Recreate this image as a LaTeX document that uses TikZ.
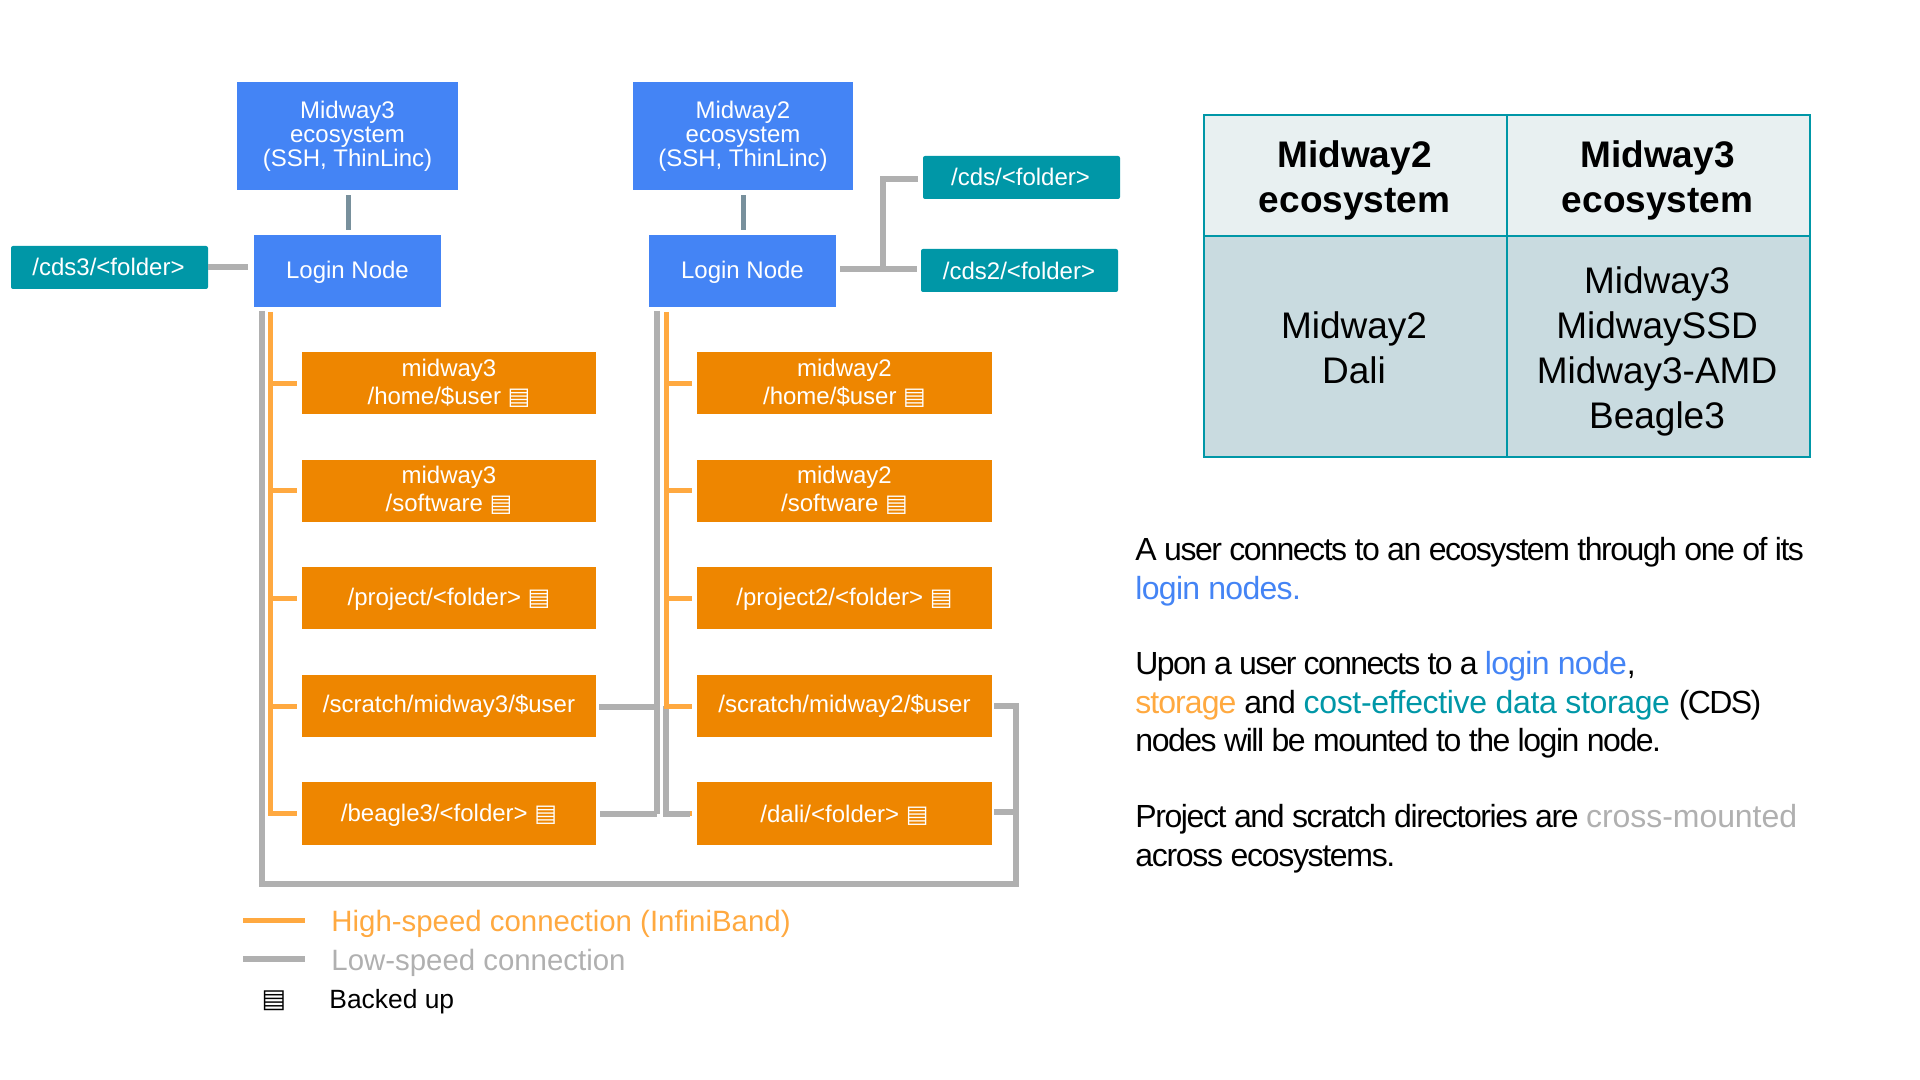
\documentclass[tikz,border=0pt]{standalone}
\usepackage{fontspec}
\setmainfont{Liberation Sans}
\newfontfamily\iconfont{DejaVu Sans}
\definecolor{nodeblue}{HTML}{4484F5}
\definecolor{cdsteal}{HTML}{0097A7}
\definecolor{storeorange}{HTML}{EE8600}
\definecolor{fastline}{HTML}{FFA940}
\definecolor{slowline}{HTML}{B0B0B0}
\definecolor{linkslate}{HTML}{78909C}
\definecolor{headfill}{HTML}{E8F0F1}
\definecolor{bodyfill}{HTML}{C9DBE0}
\newcommand\icn{{\iconfont ▤}}
\newcommand\ls[2]{{\addfontfeature{LetterSpace=#1}#2}}
\newcommand\pxbox[8][0,0]{%
  \node[#2, minimum width={(#6-#4)*0.5pt}, minimum height={(#7-#5)*0.5pt}] (#3) at ({(#4+#6)/2},{(#5+#7)/2}) {};%
  \node[#2, fill=none, draw=none, shift={(#1)}] (#3t) at (#3.center) {#8};}
\tikzset{
  boxbase/.style={inner sep=0pt, align=center, text=white, font=\fontsize{12}{12}\selectfont},
  bluebox/.style={boxbase, fill=nodeblue},
  tealbox/.style={boxbase, fill=cdsteal, rounded corners=1pt},
  orangebox/.style={boxbase, fill=storeorange, font=\fontsize{12}{14}\selectfont},
  fast/.style={draw=fastline, line width=2.5pt},
  slow/.style={draw=slowline, line width=3pt},
  stub/.style={draw=linkslate, line width=2.5pt},
  headcell/.style={draw=cdsteal, line width=1.25pt, fill=headfill, inner sep=0pt, align=center, font=\bfseries\fontsize{18.5}{22.5}\selectfont},
  bodycell/.style={draw=cdsteal, line width=1.25pt, fill=bodyfill, inner sep=0pt, align=center, font=\fontsize{18.5}{22.5}\selectfont},
  para/.style={anchor=north west, inner sep=0pt, align=left, font=\fontsize{16}{19.3}\selectfont},
  legendtext/.style={anchor=west, inner sep=0pt, font=\fontsize{14.7}{16}\selectfont}
}
\begin{document}
\begin{tikzpicture}[x=0.5pt,y=-0.5pt]
\useasboundingbox (0,0) rectangle (1920,1080);
% ecosystem + login
\pxbox[0,0.5]{bluebox}{ecoC}{237}{82}{458}{190}{Midway3\\ecosystem\\(SSH, ThinLinc)}
\pxbox[0,1]{bluebox}{loginC}{254}{235}{441}{307}{Login Node}
\pxbox[0,0.5]{bluebox}{ecoB}{633}{82}{853}{190}{Midway2\\ecosystem\\(SSH, ThinLinc)}
\pxbox[0,1]{bluebox}{loginB}{649}{235}{836}{307}{Login Node}
\pxbox[-1,-1]{tealbox}{cdsC}{11}{246}{208}{289}{/cds3/<folder>}
\pxbox[-1,-1]{tealbox}{cdsA}{923}{156}{1120}{199}{/cds/<folder>}
\pxbox[-0.5,0]{tealbox}{cdsB}{921}{249}{1118}{292}{/cds2/<folder>}
% left storage
\pxbox{orangebox}{homeC}{302}{352}{596}{414}{midway3\\/home/\$user \icn}
\pxbox[0,-1]{orangebox}{softC}{302}{460}{596}{522}{midway3\\/software \icn}
\pxbox[0,1]{orangebox}{projC}{302}{567}{596}{629}{/project/<folder> \icn}
\pxbox{orangebox}{scrC}{302}{675}{596}{737}{/scratch/midway3/\$user}
\pxbox[0,2]{orangebox}{beagle}{302}{782}{596}{845}{/beagle3/<folder> \icn}
% right storage
\pxbox{orangebox}{homeB}{697}{352}{992}{414}{midway2\\/home/\$user \icn}
\pxbox[0,-1]{orangebox}{softB}{697}{460}{992}{522}{midway2\\/software \icn}
\pxbox[0,1]{orangebox}{projB}{697}{567}{992}{629}{/project2/<folder> \icn}
\pxbox{orangebox}{scrB}{697}{675}{992}{737}{/scratch/midway2/\$user}
\pxbox[0,2]{orangebox}{dali}{697}{782}{992}{845}{/dali/<folder> \icn}
% stubs
\draw[stub] ([shift={(0,5)}]ecoC.south -| 348,0) -- ([shift={(0,-5)}]loginC.north -| 348,0);
\draw[stub] ([shift={(0,5)}]ecoB.south -| 743,0) -- ([shift={(0,-5)}]loginB.north -| 743,0);
% cds links
\draw[slow] (cdsC.east |- 0,267) -- ([xshift=-3pt]loginC.west |- 0,267);
\coordinate (jB) at (883,269);
\draw[slow] ([xshift=2pt]loginB.east |- jB) -- ([xshift=-2pt]cdsB.west |- jB);
\draw[slow] (jB) -- (883,179) -- ([xshift=-2.5pt]cdsA.west |- 0,179);
% low speed main
\coordinate (ringTL) at (262,311);
\coordinate (ringBL) at (262,884);
\coordinate (ringBR) at (1016,884);
\coordinate (ringTR) at (1016,706);
\draw[slow] (ringTL) -- (ringBL) -- (ringBR) -- (ringTR) -- ([xshift=1pt]scrB.east |- ringTR);
\draw[slow] (1016,812) -- ([xshift=1pt]dali.east |- 0,812);
% dali orange tip, under the grey link
\draw[fast] (680,813) -- ([xshift=-2.5pt]dali.west |- 0,813);
% cross mount
\coordinate (colB) at (657,311);
\draw[slow] (colB) -- (657,814);
\draw[slow] ([xshift=1.5pt]scrC.east |- 0,707) -- (657,707);
\draw[slow] ([xshift=2pt]beagle.east |- 0,814) -- (657,814);
\draw[slow] (666,706) -- (666,814) -- ([xshift=-3.5pt]dali.west |- 0,814);
% high speed left
\coordinate (fastC) at (270,312);
\draw[fast] (fastC) -- (270,813) -- ([xshift=-2.5pt]beagle.west |- 0,813);
\draw[fast] (270,383) -- ([xshift=-2.5pt]homeC.west |- 0,383);
\draw[fast] (270,490) -- ([xshift=-2.5pt]softC.west |- 0,490);
\draw[fast] (270,598) -- ([xshift=-2.5pt]projC.west |- 0,598);
\draw[fast] (270,706) -- ([xshift=-2.5pt]scrC.west |- 0,706);
% high speed right
\coordinate (fastB) at (666,312);
\draw[fast] (fastB) -- (666,706) -- ([xshift=-2.5pt]scrB.west |- 0,706);
\draw[fast] (666,383) -- ([xshift=-2.5pt]homeB.west |- 0,383);
\draw[fast] (666,490) -- ([xshift=-2.5pt]softB.west |- 0,490);
\draw[fast] (666,598) -- ([xshift=-2.5pt]projB.west |- 0,598);
% legend
\coordinate (legA) at (243,920); \coordinate (legAe) at (305,920);
\coordinate (legB) at (243,959); \coordinate (legBe) at (305,959);
\draw[fast] (legA) -- (legAe);
\draw[slow] (legB) -- (legBe);
\node[legendtext, text=fastline] (legtA) at (331,924) {High-speed connection (InfiniBand)};
\node[legendtext, text=slowline] (legtB) at (331,963) {Low-speed connection};
\node[inner sep=0pt, font=\fontsize{13}{13}\selectfont] (legicon) at (274,1001) {\icn};
\node[legendtext, font=\fontsize{13.2}{15}\selectfont] (legtC) at (329,1002) {Backed up};
% table
\pxbox[-1,5]{headcell}{th2}{1204}{115}{1507}{236}{Midway2\\ecosystem}
\pxbox[-1,5]{headcell}{th3}{1507}{115}{1810}{236}{Midway3\\ecosystem}
\pxbox[-1.5,1]{bodycell}{td2}{1204}{236}{1507}{457}{Midway2\\Dali}
\pxbox[-1.5,5]{bodycell}{td3}{1507}{236}{1810}{457}{Midway3\\MidwaySSD\\Midway3-AMD\\Beagle3}
% paragraphs
\node[para] (p1) at (1135,537) {\ls{-4.6}{A user connects to an ecosystem through one of its}\\\ls{-2.2}{\textcolor{nodeblue}{login nodes.}}};
\node[para] (p2) at (1135,651) {\ls{-5.15}{Upon a user connects to a }\ls{-2.2}{\textcolor{nodeblue}{login node},}\\\ls{-3}{\textcolor{fastline}{storage} and }\ls{-1.1}{\textcolor{cdsteal}{cost-effective data storage}} \ls{-5}{(CDS)}\\\ls{-4.6}{nodes will be mounted to the login node.}};
\node[para] (p3) at (1135,804) {\ls{-4.4}{Project and scratch directories are }\ls{-0.2}{\textcolor{slowline}{cross-mounted}}\\\ls{-4.1}{across ecosystems.}};
\end{tikzpicture}
\end{document}
